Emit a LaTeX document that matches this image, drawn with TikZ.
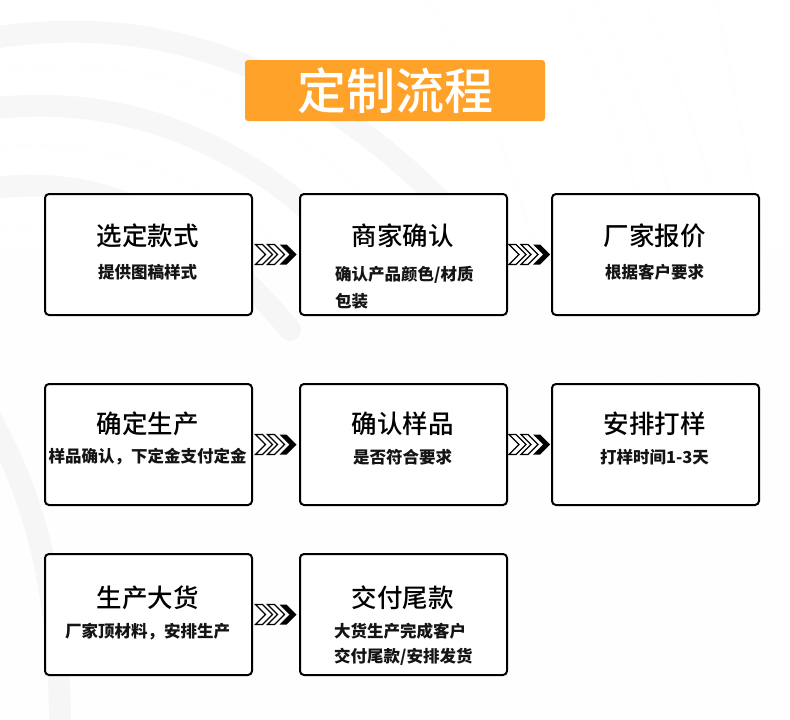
\documentclass[tikz,border=0pt]{standalone}
\usepackage{fontspec}
\setmainfont{Noto Sans CJK SC}
\newfontfamily\medfont{Noto Sans CJK SC Medium}
\usetikzlibrary{calc}
\definecolor{bgtop}{HTML}{F4F4F5}
\definecolor{bgbot}{HTML}{E7E7E9}
\definecolor{titleorange}{HTML}{FFA229}
\tikzset{
  stepbox/.style={draw=black, line width=2pt, fill=white, rounded corners=4pt,
    minimum width=207pt, minimum height=121pt, inner sep=0pt, anchor=north west},
  boxtitle/.style={inner sep=0pt, font=\medfont\fontsize{25.5}{28}\selectfont, text=black},
  boxsub/.style={inner sep=0pt, font=\bfseries\fontsize{16.5}{19}\selectfont, text=black!92},
  streak/.style={white, line width=4pt, opacity=0.55, line cap=round},
  shade/.style={black, line width=22pt, opacity=0.03, line cap=round},
  chevs/.pic={
    \foreach \i in {0,1}{
      \draw[fill=white, line width=1.1pt, line join=miter]
        ({-20.5+12*\i},-10) -- ({-13.5+12*\i},-10) -- ({-3.5+12*\i},0) -- ({-13.5+12*\i},10)
        -- ({-20.5+12*\i},10) -- ({-10.5+12*\i},0) -- cycle;
    }
    \fill[black] (3.5,-10) -- (10.5,-10) -- (20.5,0) -- (10.5,10) -- (3.5,10) -- (13.5,0) -- cycle;
  }
}
\begin{document}
\begin{tikzpicture}[x=1pt,y=-1pt]
\useasboundingbox (0,0) rectangle (790,720);
% background
\shade[top color=bgtop, bottom color=bgbot] (0,0) rectangle (790,720);
\begin{scope}
\clip (0,0) rectangle (790,720);
\draw[shade] (-20,40) .. controls (150,10) and (300,60) .. (440,200);
\draw[shade] (-20,110) .. controls (120,90) and (250,140) .. (360,260);
\draw[shade] (-20,190) .. controls (100,170) and (200,220) .. (290,330);
\draw[shade] (-20,400) .. controls (40,500) and (60,600) .. (60,730);
\draw[streak] (-20,75) .. controls (140,45) and (280,95) .. (400,230);
\draw[streak] (-20,150) .. controls (110,130) and (230,180) .. (330,300);
\draw[streak] (-20,230) .. controls (90,215) and (190,260) .. (260,360);
\draw[streak] (560,-10) .. controls (660,200) and (720,420) .. (560,730);
\draw[streak] (590,-10) .. controls (690,200) and (760,420) .. (620,730);
\draw[streak] (715,-10) .. controls (750,200) and (830,420) .. (700,730);
\draw[streak] (640,-10) .. controls (730,200) and (800,420) .. (660,730);
\draw[streak] (420,-10) .. controls (560,200) and (600,450) .. (480,730);
\draw[streak] (120,730) .. controls (140,650) and (160,560) .. (170,500);
\draw[streak] (260,730) .. controls (270,640) and (300,560) .. (330,510);
\end{scope}
% title
\node[fill=titleorange, rounded corners=3pt, minimum width=300pt, minimum height=61pt,
      inner sep=0pt, text=white, font=\medfont\fontsize{49}{52}\selectfont] (title) at (395,90.5) {定制流程};
% boxes
\node[stepbox] (b1) at (44,193) {};
\node[stepbox] (b2) at (299,193) {};
\node[stepbox] (b3) at (551,193) {};
\node[stepbox] (b4) at (44,383) {};
\node[stepbox] (b5) at (299,383) {};
\node[stepbox] (b6) at (551,383) {};
\node[stepbox] (b7) at (44,553) {};
\node[stepbox] (b8) at (299,553) {};
% texts
\node[boxtitle] (t1) at (147.5,236) {选定款式};
\node[boxsub]   (s1) at (147.5,272) {提供图稿样式};
\node[boxtitle] (t2) at (402.5,236) {商家确认};
\node[boxsub, anchor=west] (s2a) at (335,275) {确认产品颜色/材质};
\node[boxsub, anchor=west] (s2b) at (335,301) {包装};
\node[boxtitle] (t3) at (654.5,236) {厂家报价};
\node[boxsub]   (s3) at (654.5,272) {根据客户要求};
\node[boxtitle] (t4) at (147.5,424) {确定生产};
\node[boxsub]   (s4) at (147.5,457) {样品确认，下定金支付定金};
\node[boxtitle] (t5) at (402.5,424) {确认样品};
\node[boxsub]   (s5) at (402.5,457) {是否符合要求};
\node[boxtitle] (t6) at (654.5,424) {安排打样};
\node[boxsub]   (s6) at (654.5,457) {打样时间1-3天};
\node[boxtitle] (t7) at (147.5,598) {生产大货};
\node[boxsub]   (s7) at (147.5,632) {厂家顶材料，安排生产};
\node[boxtitle] (t8) at (402.5,598) {交付尾款};
\node[boxsub, anchor=west] (s8a) at (334,631) {大货生产完成客户};
\node[boxsub, anchor=west] (s8b) at (334,657) {交付尾款/安排发货};
% chevron connectors
\path ($(b1.east)!0.5!(b2.west)$) pic {chevs};
\path ($(b2.east)!0.5!(b3.west)$) pic {chevs};
\path ($(b4.east)!0.5!(b5.west)$) pic {chevs};
\path ($(b5.east)!0.5!(b6.west)$) pic {chevs};
\path ($(b7.east)!0.5!(b8.west)$) pic {chevs};
\end{tikzpicture}
\end{document}
